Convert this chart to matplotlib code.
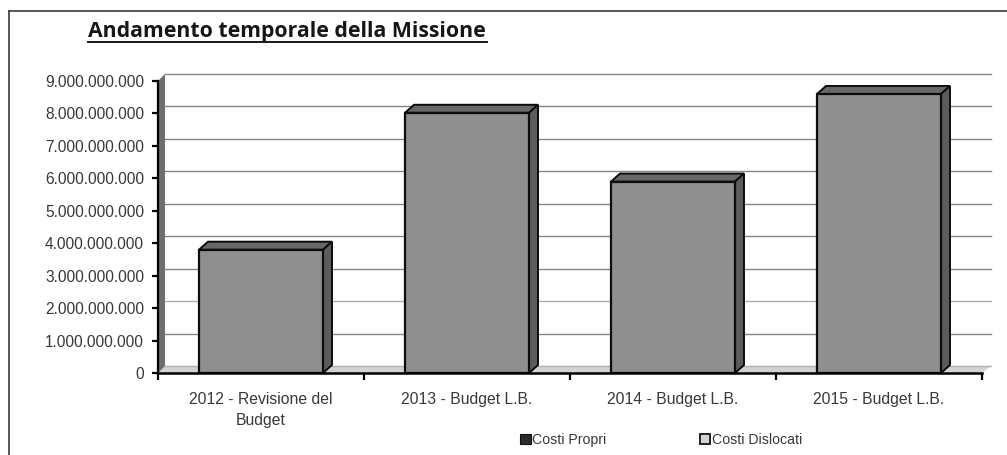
import matplotlib
matplotlib.use("Agg")
import matplotlib.pyplot as plt
from matplotlib.lines import Line2D
from matplotlib.patches import Patch, Polygon

categories = ["2012 - Revisione del\nBudget", "2013 - Budget L.B.", "2014 - Budget L.B.", "2015 - Budget L.B."]
costi_propri = [3.8e9, 8.02e9, 5.9e9, 8.6e9]
y_ticks = [0, 1e9, 2e9, 3e9, 4e9, 5e9, 6e9, 7e9, 8e9, 9e9]
y_labels = ["0", "1.000.000.000", "2.000.000.000", "3.000.000.000", "4.000.000.000",
            "5.000.000.000", "6.000.000.000", "7.000.000.000", "8.000.000.000", "9.000.000.000"]
legend_names = ["Costi Propri", "Costi Dislocati"]

W, H = 1007, 455
plt.rcParams["font.family"] = ["Liberation Sans", "DejaVu Sans"]
text_col = "#383838"

fig = plt.figure(figsize=(W / 100, H / 100), dpi=100)
ax = fig.add_axes([158 / W, 1 - 373 / H, (982 - 158) / W, (373 - 81) / H])
ax.set_xlim(0, 4)
ax.set_ylim(0, 9e9)

# fake 3d depth, in data units
wall_dx = 7 / 206
wall_dy = 7 / 32.4 * 1e9
bar_dx = 9 / 206
bar_dy = 8 / 32.4 * 1e9
end_dx = 9 / 206

# side wall and floor
ax.add_patch(Polygon([(0, 0), (wall_dx, 0), (wall_dx, 9e9 + wall_dy), (0, 9e9)],
                     fc="#6e6e6e", ec="none", zorder=1, clip_on=False))
ax.add_patch(Polygon([(0, 0), (wall_dx, wall_dy), (4 + end_dx, wall_dy), (4, 0)],
                     fc="#d2d2d2", ec="none", zorder=1, clip_on=False))

# gridlines on the back wall
for t in y_ticks:
    faint = t in (0, 2e9)
    ax.plot([wall_dx, 4 + end_dx], [t + wall_dy, t + wall_dy], color="#b0b0b0" if faint else "#858585",
            lw=1.0, zorder=2, clip_on=False)

# bars
centers = [i + 0.5 for i in range(len(categories))]
width = 124 / 206
ax.bar(centers, costi_propri, width=width, color="#8f8f8f", edgecolor="#0c0c0c", linewidth=1.6, zorder=4)
for c, v in zip(centers, costi_propri):
    x0, x1 = c - width / 2, c + width / 2
    ax.add_patch(Polygon([(x0, v), (x0 + bar_dx, v + bar_dy), (x1 + bar_dx, v + bar_dy), (x1, v)],
                         fc="#686868", ec="#0c0c0c", lw=1.4, zorder=3))
    ax.add_patch(Polygon([(x1, 0), (x1 + bar_dx, bar_dy), (x1 + bar_dx, v + bar_dy), (x1, v)],
                         fc="#5c5c5c", ec="#0c0c0c", lw=1.4, zorder=3))

for s in ("top", "right"):
    ax.spines[s].set_visible(False)
ax.spines["left"].set_linewidth(1.6)
ax.spines["bottom"].set_linewidth(1.8)
ax.spines["left"].set_zorder(5)
ax.spines["bottom"].set_zorder(5)
ax.patch.set_alpha(0)

ax.set_yticks(y_ticks)
ax.set_yticklabels(y_labels)
ax.set_xticks(range(5))
ax.set_xticklabels([])
ax.set_xticks(centers, minor=True)
ax.set_xticklabels(categories, minor=True, ha="center", linespacing=1.45)
ax.tick_params(axis="y", labelsize=11.2, labelcolor=text_col, length=4, width=1.6, pad=6)
ax.tick_params(axis="x", which="major", length=5, width=1.6)
ax.tick_params(axis="x", which="minor", length=0, labelsize=11.3, labelcolor=text_col, pad=14)

handles = [Patch(fc="#2c2c2c", ec="#111111", lw=0.8), Patch(fc="#d4d4d4", ec="#222222", lw=1.4)]
ax.legend(handles, legend_names, loc="upper left", bbox_to_anchor=(520 / W, 1 - 433 / H),
          bbox_transform=fig.transFigure, ncol=2, frameon=False, fontsize=10.2, labelcolor=text_col,
          handlelength=0.75, handleheight=0.75, handletextpad=0.1, columnspacing=6.6,
          borderpad=0, borderaxespad=0)

fig.text(88 / W, 1 - 31 / H, "Andamento temporale della Missione", family="Open Sans",
         weight="bold", fontsize=15.3, color="#161616", va="center", ha="left")
fig.add_artist(Line2D([88 / W, 487 / W], [1 - 42 / H] * 2, color="#161616", lw=1.4))

# scanned page frame
fig.add_artist(Line2D([9 / W, 1.0], [1 - 11 / H] * 2, color="#3a3a3a", lw=1.2))
fig.add_artist(Line2D([9 / W, 9 / W], [1 - 11 / H, 0], color="#3a3a3a", lw=1.2))

fig.savefig("out.png", dpi=100)
